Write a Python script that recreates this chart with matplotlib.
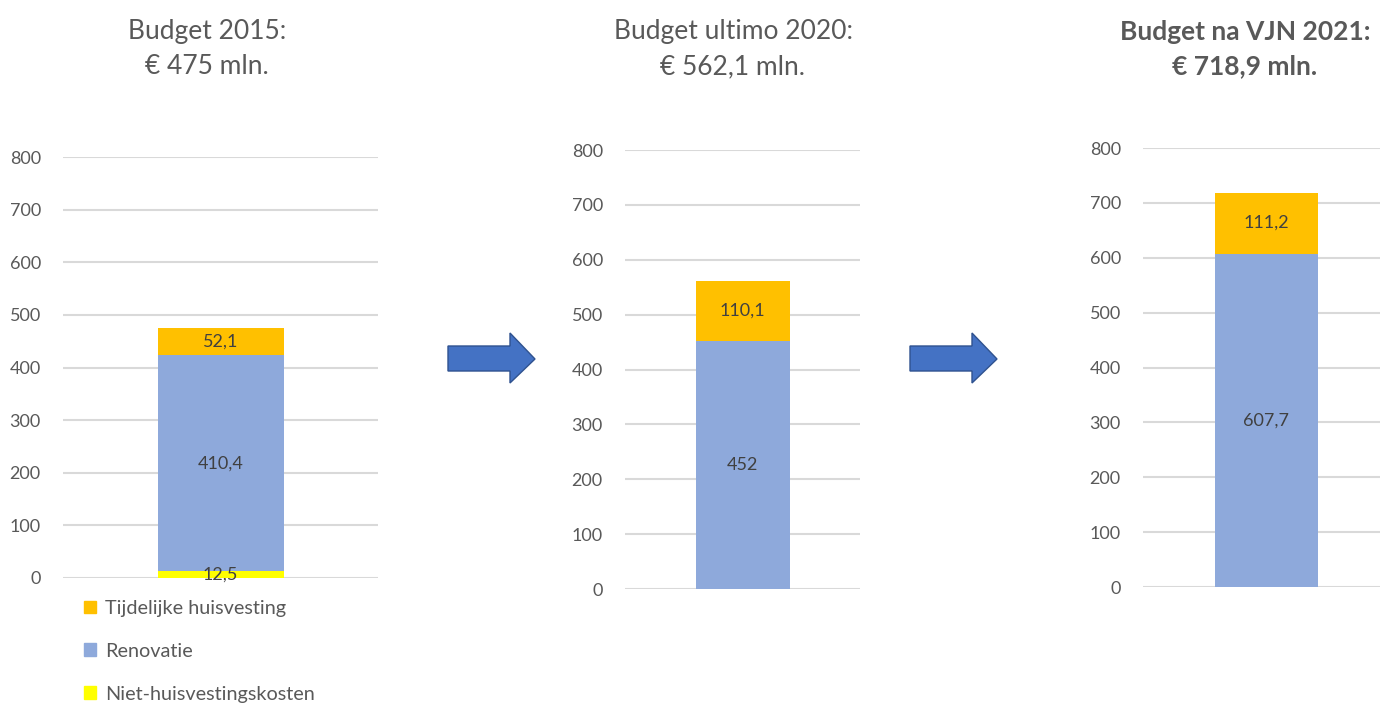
import matplotlib.pyplot as plt
from matplotlib.patches import Polygon, Patch

plt.rcParams['font.family'] = ['Lato', 'DejaVu Sans']

titles = ["Budget 2015:\n€ 475 mln.",
          "Budget ultimo 2020:\n€ 562,1 mln.",
          "Budget na VJN 2021:\n€ 718,9 mln."]
niet = [12.5, 0, 0]
renovatie = [410.4, 452, 607.7]
tijdelijk = [52.1, 110.1, 111.2]
niet_lbl = ["12,5", "", ""]
renov_lbl = ["410,4", "452", "607,7"]
tijd_lbl = ["52,1", "110,1", "111,2"]

c_tijd = "#FFC000"
c_renov = "#8EA9DB"
c_niet = "#FFFF00"
grey = "#595959"

W, H = 1387, 704
fig = plt.figure(figsize=(W / 100, H / 100), dpi=100)

# axes boxes in pixels: left, right, top(800), bottom(0), bar width, bar pos
boxes = [(63, 378, 157, 578, 0.40, 0.0),
         (625, 860, 150, 589, 0.40, 0.0),
         (1143, 1380, 148, 587, 0.435, 0.02)]
title_x = [207, 733, 1245]

for i, (l, r, t, b, bw, xp) in enumerate(boxes):
    ax = fig.add_axes([l / W, 1 - b / H, (r - l) / W, (b - t) / H])
    if niet[i] > 0:
        bn = ax.bar(xp, niet[i], bw, color=c_niet)
        ax.bar_label(bn, labels=[niet_lbl[i]], label_type='center',
                     fontsize=13, color="#404040")
    br = ax.bar(xp, renovatie[i], bw, bottom=niet[i], color=c_renov)
    bt = ax.bar(xp, tijdelijk[i], bw, bottom=niet[i] + renovatie[i], color=c_tijd)
    ax.bar_label(br, labels=[renov_lbl[i]], label_type='center',
                 fontsize=13, color="#404040")
    ax.bar_label(bt, labels=[tijd_lbl[i]], label_type='center',
                 fontsize=13, color="#404040")
    ax.set_xlim(-0.5, 0.5)
    ax.set_ylim(0, 800)
    ax.set_yticks(range(0, 801, 100))
    ax.set_xticks([])
    ax.yaxis.grid(True, color="#D9D9D9", linewidth=1.5)
    ax.set_axisbelow(True)
    for s in ax.spines.values():
        s.set_visible(False)
    ax.tick_params(axis='y', length=0, pad=16, labelsize=13, labelcolor=grey)
    fig.text(title_x[i] / W, 1 - 49 / H, titles[i], ha='center', va='center',
             fontsize=19, color=grey, linespacing=1.55,
             fontweight='bold' if i == 2 else 'normal')

# arrows between the panels
for dx in [0, 462]:
    pts = [(448, 346), (510, 346), (510, 333), (535, 359),
           (510, 383), (510, 371), (448, 371)]
    pts = [((x + dx) / W, 1 - y / H) for x, y in pts]
    fig.patches.append(Polygon(pts, closed=True, transform=fig.transFigure,
                               facecolor="#4472C4", edgecolor="#2F528F", linewidth=1))

handles = [Patch(color=c_tijd, label="Tijdelijke huisvesting"),
           Patch(color=c_renov, label="Renovatie"),
           Patch(color=c_niet, label="Niet-huisvestingskosten")]
fig.legend(handles=handles, loc='upper left', bbox_to_anchor=(76 / W, 1 - 592 / H),
           frameon=False, fontsize=14.3, labelcolor=grey, handlelength=0.6,
           handleheight=0.6, handletextpad=0.45, labelspacing=1.3, borderaxespad=0)

fig.savefig("out.png", dpi=100)
